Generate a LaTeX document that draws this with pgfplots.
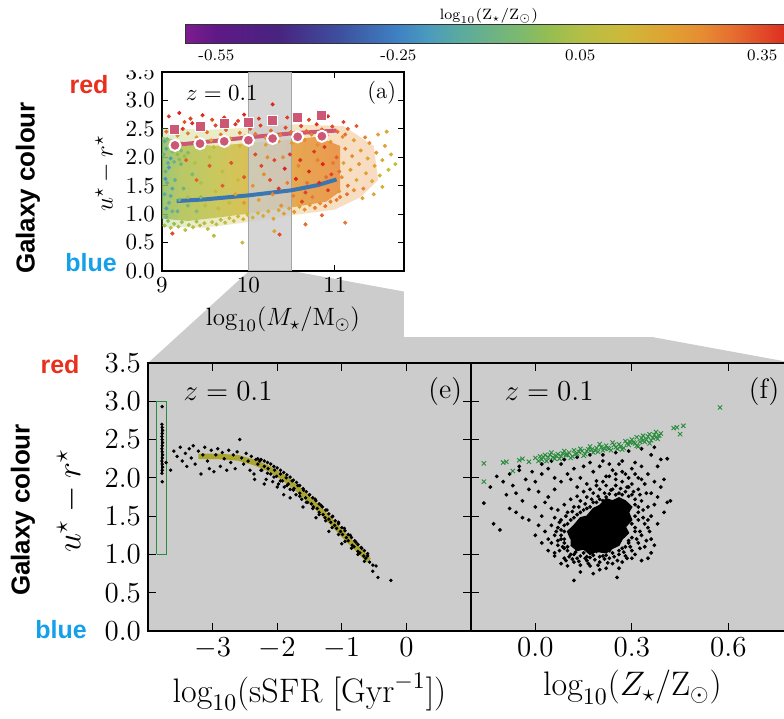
\RequirePackage{fix-cm}
\documentclass[border=0pt]{standalone}
\usepackage{fontspec}
\usepackage{pgfplots}
\usepackage{pgfplotstable}
\pgfplotsset{compat=1.18}
\newfontfamily\hv{Liberation Sans}
\definecolor{cred}{RGB}{232,48,30}
\definecolor{cblue}{RGB}{22,160,232}
\definecolor{pinkred}{RGB}{204,88,118}
\definecolor{mblue}{RGB}{58,118,178}
\definecolor{olive2}{RGB}{170,165,48}
\definecolor{dgreen}{RGB}{40,140,60}
\definecolor{panelgray}{RGB}{204,204,204}
\pgfplotsset{colormap={zcm}{rgb255(0pt)=(125,28,142); rgb255(5pt)=(95,25,135); rgb255(15pt)=(72,35,128); rgb255(25pt)=(62,78,158); rgb255(35pt)=(62,130,195); rgb255(40pt)=(75,155,190); rgb255(45pt)=(90,170,160); rgb255(55pt)=(125,185,110); rgb255(60pt)=(150,190,80); rgb255(65pt)=(180,190,70); rgb255(72pt)=(205,185,58); rgb255(80pt)=(225,160,50); rgb255(85pt)=(230,140,50); rgb255(90pt)=(230,110,48); rgb255(95pt)=(225,75,40); rgb255(100pt)=(220,35,30)}}
\pgfdeclarehorizontalshading{acloud}{100bp}{rgb(0bp)=(0.55,0.74,0.38); rgb(25bp)=(0.55,0.74,0.38); rgb(30bp)=(0.68,0.75,0.30); rgb(40bp)=(0.76,0.75,0.27); rgb(50bp)=(0.84,0.71,0.22); rgb(62bp)=(0.89,0.60,0.2); rgb(75bp)=(0.91,0.53,0.2); rgb(100bp)=(0.91,0.53,0.2)}

\pgfplotstableread{
x y c
9.03 0.80 0.02
9.07 0.88 -0.02
9.10 0.76 0.05
9.14 0.83 0.0
9.19 0.78 0.04
9.23 0.86 0.01
9.27 0.72 0.08
9.31 0.81 0.03
9.36 0.77 0.06
9.40 0.87 0.02
9.44 0.80 0.07
9.49 0.84 0.05
9.53 0.74 0.1
9.58 0.86 0.06
9.63 0.82 0.09
9.68 0.90 0.07
9.73 0.85 0.1
9.78 0.93 0.11
9.83 0.88 0.12
9.88 0.96 0.1
9.94 0.91 0.14
9.99 0.99 0.12
10.05 0.94 0.15
10.11 1.02 0.14
10.17 0.97 0.17
10.23 1.05 0.16
10.29 0.92 0.2
10.35 1.07 0.18
10.41 1.01 0.21
10.47 1.10 0.19
10.53 1.04 0.23
10.59 1.13 0.21
10.65 1.08 0.25
10.71 1.16 0.22
10.77 1.11 0.27
10.83 1.19 0.24
10.89 1.14 0.3
10.95 1.22 0.26
11.02 1.25 0.28
9.05 0.95 -0.08
9.12 1.05 -0.1
9.08 1.20 -0.12
9.03 1.35 -0.15
9.06 1.55 -0.12
9.04 1.75 -0.1
9.07 1.90 -0.14
9.02 2.05 -0.1
9.05 2.15 -0.15
9.09 2.22 -0.08
9.03 2.28 -0.12
9.12 2.10 -0.05
9.15 2.18 -0.1
9.18 2.05 -0.02
9.22 2.12 -0.06
9.26 2.02 0.0
9.30 2.08 -0.04
9.06 2.32 -0.05
9.10 1.98 -0.2
9.14 1.92 -0.08
9.20 1.96 -0.03
9.05 2.45 0.3
9.12 2.55 0.35
9.18 2.38 0.25
9.24 2.50 0.38
9.30 2.42 0.28
9.35 2.60 0.4
9.40 2.35 0.22
9.46 2.52 0.33
9.52 2.44 0.3
9.57 2.30 0.2
9.62 2.56 0.36
9.68 2.40 0.27
9.74 2.48 0.32
9.79 2.33 0.22
9.85 2.58 0.38
9.90 2.43 0.29
9.96 2.37 0.25
10.02 2.50 0.34
10.08 2.41 0.28
10.14 2.56 0.37
10.20 2.34 0.23
10.26 2.47 0.31
10.31 2.60 0.4
10.37 2.39 0.26
10.43 2.52 0.35
10.49 2.44 0.3
10.55 2.36 0.24
10.61 2.55 0.36
10.67 2.46 0.31
10.73 2.40 0.27
10.79 2.58 0.38
10.85 2.49 0.33
10.91 2.38 0.26
10.97 2.54 0.35
11.03 2.45 0.3
11.09 2.36 0.25
11.15 2.50 0.32
9.15 2.28 0.18
9.45 2.25 0.15
9.75 2.22 0.18
10.05 2.26 0.2
10.35 2.28 0.22
10.65 2.30 0.25
10.95 2.27 0.24
9.60 2.18 0.1
9.90 2.20 0.15
10.20 2.22 0.2
10.50 2.25 0.22
10.80 2.22 0.25
9.08 2.72 0.38
9.20 2.78 0.4
9.33 2.68 0.36
9.47 2.74 0.39
9.58 2.66 0.35
9.72 2.70 0.38
9.88 2.64 0.36
10.12 2.68 0.38
10.28 2.93 0.4
10.45 2.70 0.37
10.70 2.66 0.36
10.92 2.72 0.39
11.10 2.62 0.36
11.25 2.55 0.33
9.26 2.62 0.34
9.95 2.75 0.4
10.58 2.64 0.37
11.05 1.40 0.22
11.08 1.65 0.25
11.10 1.90 0.2
11.12 2.15 0.28
11.15 1.50 0.3
11.18 1.78 0.22
11.20 2.02 0.25
11.22 2.30 0.2
11.25 1.60 0.18
11.28 1.88 0.24
11.30 2.12 0.22
11.33 1.45 0.26
11.36 1.72 0.2
11.38 1.98 0.18
11.40 2.25 0.24
11.43 1.58 0.15
11.46 1.85 0.2
11.48 2.08 0.22
11.52 1.68 0.14
11.55 1.95 0.18
11.58 2.20 0.2
11.62 1.78 0.12
11.65 2.05 0.16
11.70 1.88 0.1
11.06 1.30 0.28
11.14 1.35 0.3
11.22 1.42 0.24
11.32 1.28 0.2
11.12 2.40 0.3
11.35 2.35 0.27
11.50 2.40 0.2
11.55 1.48 0.15
11.45 1.35 0.18
11.60 2.45 0.18
11.05 1.75 0.3
11.02 2.00 0.32
10.35 1.45 0.38
10.42 1.80 0.4
10.48 2.05 0.37
10.55 1.62 0.4
10.60 1.95 0.38
10.66 1.38 0.36
10.70 1.75 0.4
10.76 2.10 0.37
10.82 1.55 0.39
10.86 1.88 0.4
10.92 1.42 0.38
10.96 1.70 0.36
10.30 1.95 0.36
10.25 1.60 0.35
10.15 1.85 0.36
10.08 2.05 0.35
9.95 1.65 0.34
9.80 1.90 0.34
9.70 1.50 0.33
9.55 1.85 0.33
9.40 1.60 0.32
9.28 1.95 0.33
10.62 1.22 0.36
10.88 2.18 0.38
9.05 1.10 -0.18
9.10 1.32 -0.15
9.15 1.60 -0.12
9.08 1.82 -0.2
9.20 1.25 -0.1
9.25 1.45 -0.08
9.18 1.05 -0.12
9.30 1.15 -0.06
9.35 1.70 -0.05
9.12 1.45 -0.16
9.04 1.62 -0.22
9.22 1.88 -0.08
9.40 1.05 -0.04
9.45 1.30 -0.03
9.85 1.35 0.2
9.95 1.20 0.22
10.05 1.50 0.24
10.12 1.25 0.2
10.18 1.70 0.25
10.28 1.35 0.26
10.38 1.15 0.24
10.45 1.55 0.27
10.52 1.32 0.28
10.58 1.85 0.26
10.68 1.55 0.29
10.74 1.30 0.28
10.80 1.95 0.27
10.90 1.65 0.3
10.98 1.90 0.28
10.40 2.00 0.25
10.22 2.00 0.24
9.30 1.30 0.05
9.45 1.55 0.06
9.50 1.15 0.07
9.62 1.40 0.08
9.70 1.75 0.09
9.78 1.20 0.1
9.88 1.60 0.11
9.38 1.90 0.05
9.55 2.00 0.07
9.65 1.10 0.08
9.93 0.50 0.1
10.30 0.70 0.2
10.36 0.64 0.35
10.66 0.82 0.3
11.12 0.85 0.28
9.12 0.66 0.35
10.85 0.98 0.32
9.60 0.62 0.05
}\tabA

\pgfplotstableread{
x y
-3.72 2.20
-3.65 2.10
-3.60 2.35
-3.55 2.28
-3.50 2.40
-3.47 2.22
-3.42 2.32
-3.40 2.15
-3.36 2.38
-3.33 2.26
-3.30 2.42
-3.27 2.18
-3.22 2.35
-3.18 2.05
-3.15 2.30
-3.12 2.40
-3.08 2.22
-3.05 2.12
-3.02 2.36
-2.98 2.08
-2.95 2.30
-2.92 2.38
-2.88 2.15
-2.85 2.33
-2.82 2.25
-2.78 2.10
-2.75 2.36
-2.72 2.20
-2.68 2.30
-2.65 2.12
-2.62 2.34
-2.58 2.50
-2.55 2.26
-2.52 2.18
-2.48 2.32
-2.45 2.22
-2.42 2.10
-2.40 2.28
-2.36 2.05
-2.33 2.24
-2.30 2.18
-2.27 2.22
-2.24 2.10
-2.20 2.15
-2.17 1.98
-2.14 2.12
-2.10 2.05
-2.07 1.95
-2.04 2.10
-2.01 2.02
-1.98 1.92
-1.95 2.05
-1.92 1.96
-1.89 1.88
-1.86 2.00
-1.83 1.92
-1.80 1.85
-1.77 1.96
-1.74 1.86
-1.71 1.78
-1.68 1.90
-1.65 1.80
-1.62 1.72
-1.59 1.84
-1.56 1.74
-1.53 1.68
-1.50 1.78
-1.47 1.66
-1.44 1.62
-1.41 1.72
-1.38 1.60
-1.35 1.55
-1.32 1.64
-1.29 1.52
-1.26 1.48
-1.23 1.58
-1.20 1.46
-1.17 1.42
-1.14 1.50
-1.11 1.38
-1.08 1.34
-1.05 1.42
-1.02 1.30
-0.99 1.26
-0.96 1.34
-0.93 1.22
-0.90 1.18
-0.87 1.25
-0.84 1.12
-0.81 1.10
-0.78 1.16
-0.75 1.04
-0.72 1.02
-0.69 1.08
-0.66 0.98
-0.63 0.95
-0.60 0.98
-0.57 0.90
-0.52 0.86
-0.47 0.85
-0.52 0.78
-0.44 0.70
-0.24 0.66
-2.30 2.25
-2.25 2.24
-2.20 2.22
-2.15 2.20
-2.10 2.18
-2.05 2.15
-2.00 2.13
-1.95 2.10
-1.90 2.07
-1.85 2.04
-1.80 2.01
-1.75 1.97
-1.70 1.94
-1.65 1.90
-1.60 1.86
-1.55 1.82
-1.50 1.78
-1.45 1.74
-1.40 1.70
-1.35 1.66
-1.30 1.62
-1.25 1.58
-1.20 1.53
-1.15 1.49
-1.10 1.44
-1.05 1.40
-1.00 1.35
-0.95 1.31
-0.90 1.26
-0.85 1.22
-0.80 1.18
-0.75 1.13
-0.70 1.09
-0.65 1.05
-0.60 1.01
-2.25 2.10
-2.15 2.06
-2.05 2.01
-1.95 1.96
-1.85 1.90
-1.75 1.84
-1.65 1.76
-1.55 1.68
-1.45 1.60
-1.35 1.52
-1.25 1.44
-1.15 1.35
-1.05 1.26
-0.95 1.17
-0.85 1.08
-0.75 1.00
-0.65 0.91
-2.35 1.98
-2.20 1.92
-2.00 1.88
-1.80 1.74
-1.60 1.62
-1.90 1.78
-1.40 1.48
-1.20 1.30
-1.00 1.14
-3.78 2.93
-3.785 2.70
-3.78 2.66
-3.775 2.62
-3.78 2.58
-3.785 2.54
-3.78 2.50
-3.775 2.46
-3.78 2.42
-3.785 2.38
-3.78 2.34
-3.775 2.30
-3.78 2.26
-3.785 2.22
-3.78 2.18
-3.775 2.14
-3.78 2.10
-3.785 2.06
-3.78 1.95
}\tabE

\pgfplotstableread{
x y
0.10 1.10
0.11 1.00
0.13 0.95
0.15 1.02
0.17 0.96
0.19 1.04
0.21 0.98
0.23 1.05
0.25 1.12
0.27 1.08
0.29 1.18
0.31 1.30
0.30 1.40
0.32 1.55
0.31 1.65
0.30 1.78
0.28 1.82
0.26 1.80
0.24 1.85
0.22 1.75
0.20 1.72
0.18 1.68
0.16 1.60
0.14 1.55
0.12 1.48
0.10 1.40
0.09 1.30
0.08 1.20
0.09 1.08
0.12 0.90
0.14 0.86
0.16 0.92
0.20 0.90
0.23 0.95
0.26 1.00
0.28 0.98
0.30 1.05
0.32 1.15
0.33 1.25
0.34 1.40
0.33 1.70
0.32 1.85
0.30 1.92
0.27 1.95
0.25 1.98
0.22 1.90
0.20 1.85
0.18 1.80
0.16 1.75
0.14 1.70
0.12 1.62
0.10 1.55
0.08 1.45
0.07 1.35
0.06 1.25
0.07 1.12
0.05 1.60
0.04 1.75
0.06 1.85
0.08 1.95
0.10 2.05
0.12 2.12
0.14 2.00
0.16 1.92
0.18 2.08
0.20 2.15
0.22 2.02
0.24 2.10
0.26 2.18
0.28 2.05
0.30 2.12
0.32 2.00
0.34 1.92
0.35 2.05
0.36 1.80
0.37 1.65
0.36 1.50
0.35 1.35
0.38 2.15
0.40 1.98
0.39 1.88
0.41 2.25
0.42 1.70
0.36 1.20
0.34 1.10
0.36 1.02
0.35 0.95
0.33 0.92
0.02 1.50
0.03 1.68
0.01 1.82
0.00 1.95
0.02 2.05
0.04 2.12
0.06 2.00
0.08 2.18
0.11 1.98
0.13 1.88
0.15 2.15
0.17 2.20
0.19 1.96
0.21 2.22
0.23 2.18
0.25 1.90
0.27 2.22
0.29 1.88
0.31 2.20
0.33 2.15
-0.16 1.67
-0.13 1.40
-0.11 1.32
-0.14 1.88
-0.10 1.95
-0.08 2.05
-0.07 1.90
-0.06 1.80
-0.05 2.10
-0.04 1.70
-0.03 1.98
-0.02 1.85
-0.01 2.08
0.00 1.62
-0.09 1.78
-0.12 2.02
-0.06 1.55
-0.02 1.45
0.01 1.38
0.03 1.30
0.04 1.20
-0.04 1.48
-0.08 1.60
0.00 1.25
0.02 1.15
-0.05 2.15
0.02 2.18
0.05 2.22
0.09 2.24
0.13 2.27
0.17 2.30
0.21 2.30
0.25 2.33
0.29 2.35
0.33 2.38
0.37 2.40
0.39 2.24
0.36 2.30
0.41 1.68
0.38 1.75
0.37 1.95
0.40 1.55
0.38 1.40
0.37 1.12
0.12 0.66
0.254 0.70
0.14 0.77
0.17 0.85
0.09 0.95
0.10 0.85
0.20 0.80
0.24 0.88
0.27 0.90
0.30 0.95
0.06 1.02
0.04 1.05
0.08 0.88
0.22 0.82
0.18 0.75
0.26 0.82
0.09 1.15
0.10 1.05
0.12 1.00
0.14 0.98
0.16 0.97
0.18 0.99
0.20 0.97
0.22 0.99
0.24 1.02
0.26 1.05
0.28 1.10
0.29 1.15
0.30 1.22
0.31 1.35
0.32 1.45
0.31 1.50
0.32 1.62
0.31 1.72
0.29 1.76
0.27 1.78
0.25 1.78
0.23 1.79
0.21 1.70
0.19 1.68
0.17 1.62
0.15 1.58
0.13 1.52
0.11 1.45
0.09 1.38
0.08 1.32
0.08 1.25
0.09 1.20
0.085 1.10
0.105 0.97
0.125 1.03
0.155 0.95
0.185 0.93
0.215 0.94
0.245 0.97
0.275 1.03
0.295 1.10
0.315 1.20
0.325 1.30
0.335 1.48
0.335 1.58
0.325 1.78
0.305 1.82
0.285 1.88
0.265 1.86
0.235 1.84
0.215 1.80
0.195 1.76
0.175 1.72
0.155 1.66
0.135 1.62
0.115 1.56
0.095 1.50
0.075 1.42
0.065 1.30
0.07 1.18
0.075 1.05
0.095 0.92
0.115 0.94
0.135 0.91
0.165 0.88
0.195 0.86
0.225 0.89
0.255 0.92
0.285 0.95
0.31 1.00
0.325 1.08
0.345 1.18
0.355 1.30
0.35 1.45
0.35 1.62
0.345 1.80
0.33 1.98
0.31 2.05
0.29 2.00
0.27 2.08
0.25 2.05
0.23 2.02
0.21 1.95
0.19 1.90
0.17 1.85
0.15 1.82
0.13 1.76
0.11 1.72
0.09 1.65
0.07 1.58
0.06 1.48
0.05 1.38
0.05 1.15
0.06 0.98
}\tabFb

\pgfplotstableread{
x y
-0.16 2.19
-0.16 1.95
-0.10 2.20
-0.09 2.21
-0.07 2.09
-0.05 2.23
-0.04 2.25
-0.02 2.21
0.00 2.26
0.01 2.22
0.02 2.24
0.03 2.30
0.04 2.27
0.05 2.33
0.06 2.25
0.07 2.31
0.08 2.28
0.09 2.35
0.10 2.30
0.11 2.26
0.12 2.36
0.13 2.32
0.14 2.38
0.15 2.29
0.16 2.35
0.17 2.41
0.18 2.33
0.19 2.39
0.20 2.44
0.21 2.36
0.22 2.42
0.23 2.38
0.24 2.46
0.25 2.40
0.26 2.44
0.27 2.37
0.28 2.48
0.29 2.43
0.30 2.50
0.31 2.45
0.32 2.41
0.33 2.52
0.34 2.47
0.35 2.54
0.36 2.49
0.37 2.56
0.38 2.51
0.025 2.27
0.045 2.30
0.065 2.29
0.085 2.32
0.105 2.33
0.125 2.31
0.145 2.35
0.165 2.37
0.185 2.36
0.205 2.40
0.225 2.39
0.245 2.43
0.265 2.41
0.285 2.45
0.305 2.46
0.325 2.47
0.345 2.50
0.365 2.52
0.385 2.55
0.39 2.58
0.375 2.60
0.355 2.57
0.335 2.55
0.315 2.53
0.035 2.22
0.075 2.25
0.115 2.28
0.155 2.31
0.195 2.34
0.235 2.36
0.275 2.39
0.315 2.42
0.355 2.45
0.015 2.28
0.055 2.27
0.095 2.30
0.135 2.34
0.175 2.37
0.215 2.38
0.255 2.38
0.295 2.47
0.335 2.49
0.375 2.53
0.43 2.65
0.45 2.57
0.44 2.66
0.46 2.68
0.574 2.92
}\tabFg

\begin{document}
\begin{tikzpicture}
\useasboundingbox (0,0) rectangle (392pt,359.5pt);
\clip (0,0) rectangle (392pt,359.5pt);
% zoom connector
\fill[panelgray] (124.5pt,224pt) -- (145.9pt,224pt) -- (397pt,178pt) -- (74pt,178pt) -- cycle;
\fill[white] (201.75pt,191pt) rectangle (392pt,359.5pt);

% ---------- panel (a)
\begin{axis}[at={(81pt,224pt)}, anchor=south west, scale only axis, width=121pt, height=99.5pt,
  xmin=9, xmax=11.8, ymin=0, ymax=3.5, xtick={9,10,11}, ytick={0,0.5,1,1.5,2,2.5,3,3.5},
  yticklabel style={/pgf/number format/.cd,fixed,fixed zerofill,precision=1},
  tick label style={font=\fontsize{11.5}{13}\selectfont},
  xlabel={$\log_{10}(M_\star/\mathrm{M}_\odot)$}, label style={font=\fontsize{12.5}{14}\selectfont},
  major tick length=3pt, axis line style={line width=0.6pt}, tick style={black, line width=0.5pt},
  colormap name=zcm, point meta min=-0.6, point meta max=0.4]
\addplot[draw=none, shading=acloud, opacity=0.3] coordinates {(9.0,0.78) (9.5,0.76) (10.0,0.86) (10.5,0.98) (11.0,1.08) (11.3,1.3) (11.5,1.6) (11.45,2.2) (11.1,2.55) (10.5,2.58) (10.0,2.52) (9.5,2.48) (9.0,2.52)};
\addplot[draw=none, shading=acloud, opacity=0.8] coordinates {(9.0,0.92) (9.3,0.88) (9.7,0.95) (10.1,1.03) (10.5,1.12) (10.9,1.22) (11.06,1.4) (11.06,2.2) (10.8,2.36) (10.4,2.3) (10.0,2.25) (9.6,2.2) (9.3,2.25) (9.0,2.36)};
\addplot[scatter, only marks, mark=*, mark size=0.8pt, scatter/use mapped color={draw=mapped color,fill=mapped color}, point meta=explicit] table[x=x,y=y,meta=c] {\tabA};
\addplot[fill=panelgray, fill opacity=0.8, draw=black!35, line width=0.3pt] coordinates {(10,0) (10.5,0) (10.5,3.5) (10,3.5)} -- cycle;
\addplot[mblue, line width=2pt] coordinates {(9.17,1.23) (9.5,1.26) (10.0,1.33) (10.5,1.42) (10.8,1.51) (11.02,1.61)};
\addplot[pinkred, line width=2pt] coordinates {(9.1,2.21) (9.5,2.27) (10.0,2.35) (10.5,2.42) (11.02,2.47)};
\addplot[only marks, mark=square*, mark size=2.5pt, mark options={fill=pinkred, draw=white, line width=0.5pt}] coordinates {(9.15,2.48) (9.44,2.54) (9.72,2.60) (10.0,2.62) (10.28,2.65) (10.57,2.70) (10.85,2.74)};
\addplot[only marks, mark=*, mark size=2.8pt, mark options={fill=pinkred, draw=white, line width=1pt}] coordinates {(9.15,2.21) (9.44,2.24) (9.72,2.28) (10.0,2.30) (10.28,2.33) (10.57,2.36) (10.85,2.37)};
\node[font=\fontsize{11.5}{13}\selectfont] at (axis cs:9.69,3.13) {$z = 0.1$};
\node[font=\fontsize{11.5}{13}\selectfont, anchor=east] at (axis cs:11.79,3.13) {(a)};
\end{axis}
\fill[white] (0,324.5pt) rectangle (392pt,359.5pt);

% ---------- colour bar
\begin{axis}[at={(93pt,338pt)}, anchor=south west, scale only axis, width=303.3pt, height=9.2pt,
  xmin=-0.6, xmax=0.4, ymin=0, ymax=1, ytick=\empty,
  xtick={-0.55,-0.25,0.05,0.35}, xticklabels={-0.55,-0.25,0.05,0.35},
  xtick pos=left, xtick align=inside, major tick length=2pt,
  tick label style={font=\fontsize{8}{9}\selectfont}, tick style={black, line width=0.4pt},
  axis line style={line width=0.6pt, black!80},
  colormap name=zcm, point meta min=-0.6, point meta max=0.4]
\addplot[surf, shader=interp, point meta=x] table {
x y
-0.60 0
-0.55 0
-0.50 0
-0.45 0
-0.40 0
-0.35 0
-0.30 0
-0.25 0
-0.20 0
-0.15 0
-0.10 0
-0.05 0
0.00 0
0.05 0
0.10 0
0.15 0
0.20 0
0.25 0
0.30 0
0.35 0
0.40 0

-0.60 1
-0.55 1
-0.50 1
-0.45 1
-0.40 1
-0.35 1
-0.30 1
-0.25 1
-0.20 1
-0.15 1
-0.10 1
-0.05 1
0.00 1
0.05 1
0.10 1
0.15 1
0.20 1
0.25 1
0.30 1
0.35 1
0.40 1
};
\end{axis}
\node[font=\fontsize{7.5}{9}\selectfont] at (244.5pt,351.5pt) {$\log_{10}(\mathrm{Z}_\star/\mathrm{Z}_\odot)$};

% ---------- panel (e)
\begin{axis}[at={(74pt,44pt)}, anchor=south west, scale only axis, width=161.5pt, height=134pt,
  xmin=-4, xmax=1, ymin=0, ymax=3.5, xtick={-3,-2,-1,0}, ytick={0,0.5,1,1.5,2,2.5,3,3.5},
  yticklabel style={/pgf/number format/.cd,fixed,fixed zerofill,precision=1},
  tick label style={font=\fontsize{14.5}{16}\selectfont},
  xlabel={$\log_{10}(\mathrm{sSFR}\ [\mathrm{Gyr}^{-1}])$}, label style={font=\fontsize{17}{19}\selectfont},
  axis background/.style={fill=panelgray}, axis line style={line width=0.9pt},
  major tick length=4pt, tick style={black, line width=0.6pt}]
\addplot[dgreen, line width=0.7pt] coordinates {(-3.865,1) (-3.71,1) (-3.71,3) (-3.865,3) (-3.865,1)};
\addplot[black, line width=0.9pt] coordinates {(-3.78,2.06) (-3.78,2.66)};
\addplot[only marks, mark=*, mark size=0.65pt, black] table[x=x,y=y] {\tabE};
\addplot[olive2, line width=2.8pt] coordinates {(-3.22,2.28) (-2.9,2.28) (-2.6,2.26) (-2.35,2.2) (-2.1,2.11) (-1.9,2.0) (-1.7,1.87) (-1.5,1.71) (-1.3,1.55) (-1.1,1.37) (-0.9,1.19) (-0.75,1.07) (-0.58,0.92)};
\node[font=\fontsize{14.5}{16}\selectfont] at (axis cs:-2.76,3.13) {$z = 0.1$};
\node[font=\fontsize{14}{16}\selectfont, anchor=east] at (axis cs:0.97,3.13) {(e)};
\end{axis}

% ---------- panel (f)
\begin{axis}[at={(235.5pt,44pt)}, anchor=south west, scale only axis, width=161.5pt, height=134pt,
  xmin=-0.2, xmax=0.804, ymin=0, ymax=3.5, xtick={0,0.3,0.6}, ytick={0,0.5,1,1.5,2,2.5,3,3.5},
  yticklabels={},
  xticklabel style={/pgf/number format/.cd,fixed,fixed zerofill,precision=1},
  tick label style={font=\fontsize{14.5}{16}\selectfont},
  xlabel={$\log_{10}(Z_\star/\mathrm{Z}_\odot)$}, label style={font=\fontsize{17}{19}\selectfont},
  axis background/.style={fill=panelgray}, axis line style={line width=0.9pt},
  major tick length=4pt, tick style={black, line width=0.6pt}]
\addplot[fill=black, draw=black, line width=0.6pt] coordinates {(0.11,1.12) (0.13,1.05) (0.15,1.07) (0.17,1.00) (0.19,1.04) (0.22,1.02) (0.24,1.08) (0.26,1.12) (0.27,1.2) (0.29,1.28) (0.28,1.36) (0.30,1.45) (0.29,1.55) (0.30,1.62) (0.28,1.7) (0.26,1.74) (0.24,1.7) (0.22,1.73) (0.2,1.64) (0.18,1.6) (0.16,1.5) (0.14,1.48) (0.12,1.38) (0.10,1.3) (0.11,1.2)};
\addplot[only marks, mark=*, mark size=0.75pt, black] table[x=x,y=y] {\tabFb};
\addplot[only marks, mark=x, mark size=1.5pt, dgreen, line width=0.45pt] table[x=x,y=y] {\tabFg};
\node[font=\fontsize{14.5}{16}\selectfont] at (axis cs:0.0425,3.13) {$z = 0.1$};
\node[font=\fontsize{14}{16}\selectfont] at (axis cs:0.711,3.13) {(f)};
\end{axis}

% ---------- side labels
\node[rotate=90, font=\fontsize{12.5}{14}\selectfont] at (52.5pt,272.75pt) {$u^\star - r^\star$};
\node[rotate=90, font=\fontsize{17}{19}\selectfont] at (35pt,109pt) {$u^\star - r^\star$};
\node[rotate=90, font=\hv\bfseries\fontsize{13}{15}\selectfont] at (14pt,265.5pt) {Galaxy colour};
\node[rotate=90, font=\hv\bfseries\fontsize{13}{15}\selectfont] at (11.5pt,104.5pt) {Galaxy colour};
\node[font=\hv\bfseries\fontsize{12.5}{14}\selectfont, text=cred] at (44.5pt,317pt) {red};
\node[font=\hv\bfseries\fontsize{12.5}{14}\selectfont, text=cblue] at (45.5pt,228pt) {blue};
\node[font=\hv\bfseries\fontsize{12.5}{14}\selectfont, text=cred] at (30pt,177pt) {red};
\node[font=\hv\bfseries\fontsize{12.5}{14}\selectfont, text=cblue] at (30.5pt,44.5pt) {blue};
\end{tikzpicture}
\end{document}
